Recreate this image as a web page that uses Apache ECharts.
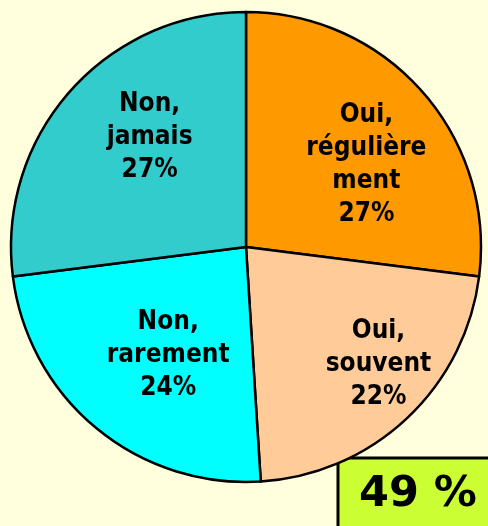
<!DOCTYPE html>
<html>
<head>
<meta charset="utf-8">
<script src="https://cdn.jsdelivr.net/npm/echarts@6/dist/echarts.min.js"></script>
<style>
  html, body { margin: 0; padding: 0; background: #FFFFDD; }
  #main { width: 488px; height: 526px; }
</style>
</head>
<body>
<div id="main"></div>
<script>
// catégories et valeurs (%)
const categories = ['Oui,\nrégulière\nment', 'Oui,\nsouvent', 'Non,\nrarement', 'Non,\njamais']
const values = [27, 22, 24, 27]
const colors = ['#FF9900', '#FFCC99', '#00FFFF', '#33CCCC']
// décalage des étiquettes
const labelOffsets = [[30, -3], [50, 29], [-1, 15], [-6, -30]]

// total des "Oui"
const ouiTotal = values[0] + values[1]

const chart = echarts.init(document.getElementById('main'))

const option = {
  backgroundColor: '#FFFFDD',
  animation: false,
  series: [
    {
      type: 'pie',
      center: [246, 247],
      radius: 235,
      startAngle: 90,
      clockwise: true,
      avoidLabelOverlap: false,
      emphasis: { disabled: true },
      itemStyle: {
        borderColor: '#000',
        borderWidth: 2.5,
      },
      label: {
        show: true,
        position: 'inside',
        color: '#000',
        fontFamily: 'DejaVu Sans Condensed',
        fontWeight: 'bold',
        fontSize: 26,
        lineHeight: 33,
        align: 'center',
        formatter: (p) => p.name + '\n' + p.value + '%',
      },
      labelLine: { show: false },
      data: categories.map((name, i) => ({
        name: name,
        value: values[i],
        itemStyle: { color: colors[i] },
        label: { offset: labelOffsets[i] },
      })),
    },
  ],
  graphic: [
    {
      type: 'rect',
      shape: { x: 338, y: 458, width: 170, height: 90 },
      style: { fill: '#CCFF33', stroke: '#000', lineWidth: 3 },
    },
    {
      type: 'text',
      x: 418,
      y: 495,
      style: {
        text: ouiTotal + ' %',
        fill: '#000',
        font: 'bold 43px "DejaVu Sans"',
        align: 'center',
        verticalAlign: 'middle',
      },
    },
  ],
}

chart.setOption(option)
</script>
</body>
</html>
